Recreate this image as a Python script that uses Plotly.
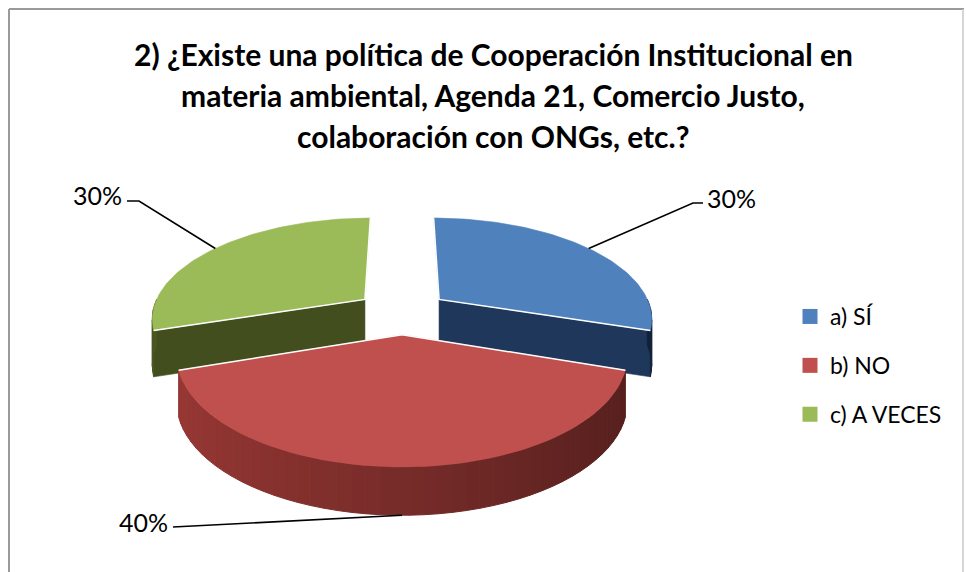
import numpy as np
import plotly.graph_objects as go

# Survey answers
categories = ["a) SÍ", "b) NO", "c) A VECES"]
values = [30, 40, 30]
top_colors = ["#4F81BD", "#C0504D", "#9BBB59"]
side_colors = [(31, 55, 91), (136, 50, 47), (66, 78, 30)]

title_lines = [
    "2) ¿Existe una política de Cooperación Institucional en",
    "materia ambiental, Agenda 21, Comercio Justo,",
    "colaboración con ONGs, etc.?",
]

W, H = 966, 572
FONT = "Lato, Carlito, Calibri, 'Open Sans', sans-serif"

# 3-D pie geometry (screen pixels)
CX, CY = 402, 312
RX, RY = 213, 99.7
PERSP = 0.176
DEPTH = 46
EXPLODE = 0.22


def project(X, Yd, down=False):
    s = 1.0 / (1.0 + PERSP * Yd)
    x = CX + RX * X * s
    y = CY - RY * Yd * s
    if down:
        y = y + DEPTH / (1.0 + 0.04 * Yd)
    return x, y


def rgb(c, f=1.0):
    r, g, b = (int(max(0, min(255, round(v * f)))) for v in c)
    return f"rgb({r},{g},{b})"


fig = go.Figure()


def polygon(pts, color, width=0.6):
    xs = [p[0] for p in pts] + [pts[0][0]]
    ys = [p[1] for p in pts] + [pts[0][1]]
    fig.add_trace(go.Scatter(
        x=xs, y=ys, mode="lines", fill="toself", fillcolor=color,
        line=dict(color=color, width=width), hoverinfo="skip", showlegend=False))


total = float(sum(values))
bounds = np.concatenate([[0.0], np.cumsum(values) / total * 360.0])
slices = []
for i in range(len(values)):
    a0, a1 = bounds[i], bounds[i + 1]
    m = np.radians((a0 + a1) / 2)
    slices.append((i, a0, a1, m))

# paint back slices first
order = sorted(slices, key=lambda s: -np.cos(s[3]))
rim_pts = {}
for i, a0, a1, m in order:
    ox, oy = EXPLODE * np.sin(m), EXPLODE * np.cos(m)

    def rim(th_deg, down=False, r=1.0):
        t = np.radians(th_deg)
        return project(ox + r * np.sin(t), oy + r * np.cos(t), down)

    ctr_top = project(ox, oy)
    ctr_bot = project(ox, oy, True)

    # flat cut faces turned toward the viewer
    if np.sin(np.radians(a1)) > 1e-6:
        polygon([ctr_top, rim(a1), rim(a1, True), ctr_bot], rgb(side_colors[i]))
    if np.sin(np.radians(a0)) < -1e-6:
        polygon([ctr_top, rim(a0), rim(a0, True), ctr_bot], rgb(side_colors[i]))

    # curved outer wall (front half only), shaded left to right
    lo, hi = max(a0, 90.0), min(a1, 270.0)
    if hi > lo:
        steps = max(2, int((hi - lo) / 3))
        ths = np.linspace(lo, hi, steps + 1)
        for k in range(steps):
            tm = np.radians((ths[k] + ths[k + 1]) / 2)
            f = 1.12 - 0.5 * (np.sin(tm) + 1) / 2
            polygon([rim(ths[k]), rim(ths[k + 1]), rim(ths[k + 1], True), rim(ths[k], True)],
                    rgb(side_colors[i], f), width=1.0)

    # top face
    arc = [rim(t) for t in np.linspace(a0, a1, 80)]
    polygon([ctr_top] + arc, top_colors[i])

    # light seam along the cut edges
    edge = [rim(a0), ctr_top, rim(a1)]
    fig.add_trace(go.Scatter(
        x=[p[0] for p in edge], y=[p[1] for p in edge], mode="lines",
        line=dict(color="white", width=1.5), hoverinfo="skip", showlegend=False))

    # anchor for the leader line: top rim at mid-angle for back slices, base rim for front
    md = np.degrees(m)
    rim_pts[i] = rim(md, down=np.cos(m) < 0, r=1.0)

# percentage labels with leader lines
label_pos = {0: (705, 198, "left", [(693, 203), (703, 203)]),
             1: (170, 522, "right", [(173, 527)]),
             2: (124, 195, "right", [(139, 201), (127, 201)])}
for i, a0, a1, m in slices:
    lx, ly, anchor, path = label_pos[i]
    pts = [rim_pts[i]] + path
    fig.add_trace(go.Scatter(
        x=[p[0] for p in pts], y=[p[1] for p in pts], mode="lines",
        line=dict(color="black", width=1.6), hoverinfo="skip", showlegend=False))
    fig.add_annotation(x=lx, y=ly, xref="x", yref="y", text=f"{values[i] / total * 100:.0f}%",
                       showarrow=False, xanchor=anchor, yanchor="middle",
                       font=dict(family=FONT, size=25, color="black"))

# legend entries
for i, name in enumerate(categories):
    fig.add_trace(go.Scatter(
        x=[None], y=[None], mode="markers", name=name, legendgroup=str(i),
        marker=dict(symbol="square", size=15, color=top_colors[i])))

# title
for k, line in enumerate(title_lines):
    fig.add_annotation(x=493, y=54 + 41 * k, xref="x", yref="y", text=f"<b>{line}</b>",
                       showarrow=False, xanchor="center", yanchor="middle",
                       font=dict(family=FONT, size=30, color="black"))

# chart frame
fig.add_shape(type="line", x0=9, y0=9, x1=964, y1=9, xref="x", yref="y",
              line=dict(color="#9a9a9a", width=2))
fig.add_shape(type="line", x0=9, y0=9, x1=9, y1=572, xref="x", yref="y",
              line=dict(color="#9a9a9a", width=2))
fig.add_shape(type="line", x0=963, y0=9, x1=963, y1=572, xref="x", yref="y",
              line=dict(color="#c8c8c8", width=1.5))

fig.update_layout(
    width=W, height=H, margin=dict(l=0, r=0, t=0, b=0),
    paper_bgcolor="white", plot_bgcolor="white",
    xaxis=dict(range=[0, W], visible=False, fixedrange=True),
    yaxis=dict(range=[H, 0], visible=False, fixedrange=True),
    legend=dict(x=790 / W, y=1 - 295 / H, xanchor="left", yanchor="top",
                font=dict(family=FONT, size=23, color="black"),
                tracegroupgap=16, bgcolor="rgba(0,0,0,0)"),
    showlegend=True,
)

fig.write_html("out.html")
